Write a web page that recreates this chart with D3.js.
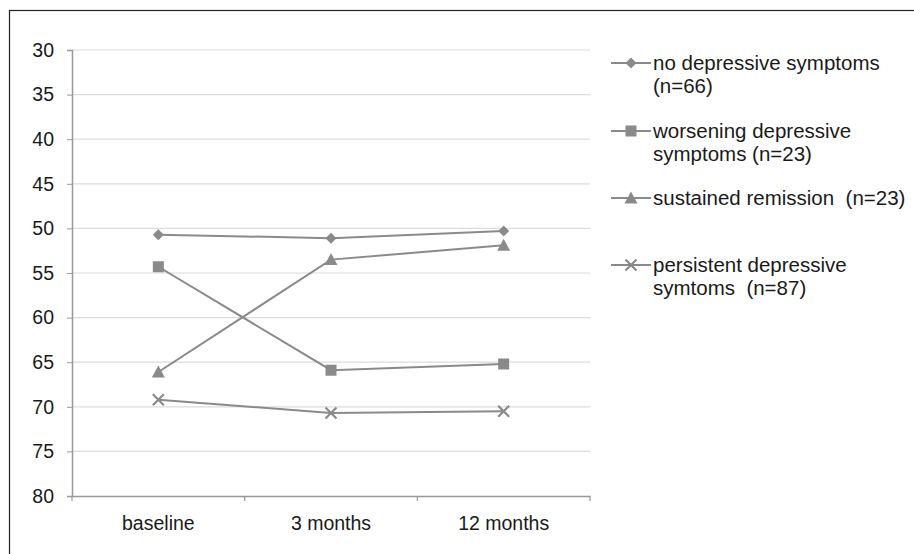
<!DOCTYPE html>
<html><head><meta charset="utf-8">
<script src="https://cdn.jsdelivr.net/npm/d3@7"></script>
<style>body{margin:0;background:#fff}svg{display:block}text{font-family:Arial,"Liberation Sans",sans-serif;white-space:pre}</style>
</head><body><svg width="914" height="554"></svg>
<script>
const categories = ["baseline", "3 months", "12 months"];
const yTicks = [30, 35, 40, 45, 50, 55, 60, 65, 70, 75, 80];
const noDepressive = [50.7, 51.1, 50.3];
const worsening = [54.3, 65.9, 65.2];
const remission = [66.1, 53.5, 51.9];
const persistent = [69.2, 70.7, 70.5];
const seriesNames = [["no depressive symptoms", "(n=66)"], ["worsening depressive", "symptoms (n=23)"], ["sustained remission  (n=23)"], ["persistent depressive", "symtoms  (n=87)"]];
const seriesSymbols = ["diamond", "square", "triangle", "x"];
const series = [noDepressive, worsening, remission, persistent];

const svg = d3.select("svg");
svg.append("rect").attr("x", 9.5).attr("y", 10.5).attr("width", 920).attr("height", 560).attr("fill", "none").attr("stroke", "#222").attr("stroke-width", 1.2);

const x = d3.scaleBand().domain(categories).range([72, 590]);
const y = d3.scaleLinear().domain([30, 80]).range([50, 496]);
const col = "#8a8a8a";

// gridlines
svg.append("g").selectAll("line").data(yTicks.slice(0, -1)).join("line")
  .attr("x1", 72).attr("x2", 590).attr("y1", d => y(d)).attr("y2", d => y(d))
  .attr("stroke", "#dcdcdc").attr("stroke-width", 1.2);

// y axis
const ya = svg.append("g").attr("transform", "translate(72,0)")
  .call(d3.axisLeft(y).tickValues(yTicks).tickSize(5).tickPadding(13));
ya.select(".domain").attr("stroke", "#999").attr("stroke-width", 1.5);
ya.selectAll(".tick line").attr("stroke", "#999");
ya.selectAll("text").attr("font-size", 19.5).attr("fill", "#1a1a1a");

// x axis
const xa = svg.append("g").attr("transform", "translate(0,496)")
  .call(d3.axisBottom(x).tickSize(0).tickPadding(20));
xa.select(".domain").attr("stroke", "#999").attr("stroke-width", 1.5);
xa.selectAll("text").attr("font-size", 19.5).attr("fill", "#1a1a1a");
xa.selectAll(".bt").data([72, ...categories.map(c => x(c) + x.bandwidth())]).join("line")
  .attr("x1", d => d).attr("x2", d => d).attr("y1", 0).attr("y2", 5).attr("stroke", "#999").attr("stroke-width", 1.2);

const cx = c => x(c) + x.bandwidth() / 2;
const line = d3.line().x((d, i) => cx(categories[i])).y(d => y(d));

function marker(g, type, px, py) {
  if (type === "diamond") {
    g.append("path").attr("d", `M${px},${py-5.5}L${px+5.5},${py}L${px},${py+5.5}L${px-5.5},${py}Z`).attr("fill", col);
  } else if (type === "square") {
    g.append("rect").attr("x", px - 5.5).attr("y", py - 5.5).attr("width", 11).attr("height", 11).attr("fill", col);
  } else if (type === "triangle") {
    g.append("path").attr("d", `M${px},${py-6.5}L${px+6.5},${py+5.5}L${px-6.5},${py+5.5}Z`).attr("fill", col);
  } else {
    g.append("path").attr("d", `M${px-5.5},${py-5.5}L${px+5.5},${py+5.5}M${px+5.5},${py-5.5}L${px-5.5},${py+5.5}`).attr("stroke", col).attr("stroke-width", 2.2);
  }
}

series.forEach((s, k) => {
  const g = svg.append("g");
  g.append("path").datum(s).attr("d", line).attr("fill", "none").attr("stroke", col).attr("stroke-width", 2);
  s.forEach((v, i) => marker(g, seriesSymbols[k], cx(categories[i]), y(v)));
});

// legend
const legY = [63, 131, 198, 265];
seriesNames.forEach((lines, k) => {
  const g = svg.append("g");
  const ly = legY[k];
  g.append("line").attr("x1", 611).attr("x2", 651).attr("y1", ly).attr("y2", ly).attr("stroke", col).attr("stroke-width", 2);
  marker(g, seriesSymbols[k], 631, ly);
  lines.forEach((t, j) => {
    g.append("text").attr("x", 653).attr("y", ly + 7 + j * 23).attr("font-size", 20.5).attr("fill", "#1a1a1a").text(t);
  });
});
</script></body></html>
